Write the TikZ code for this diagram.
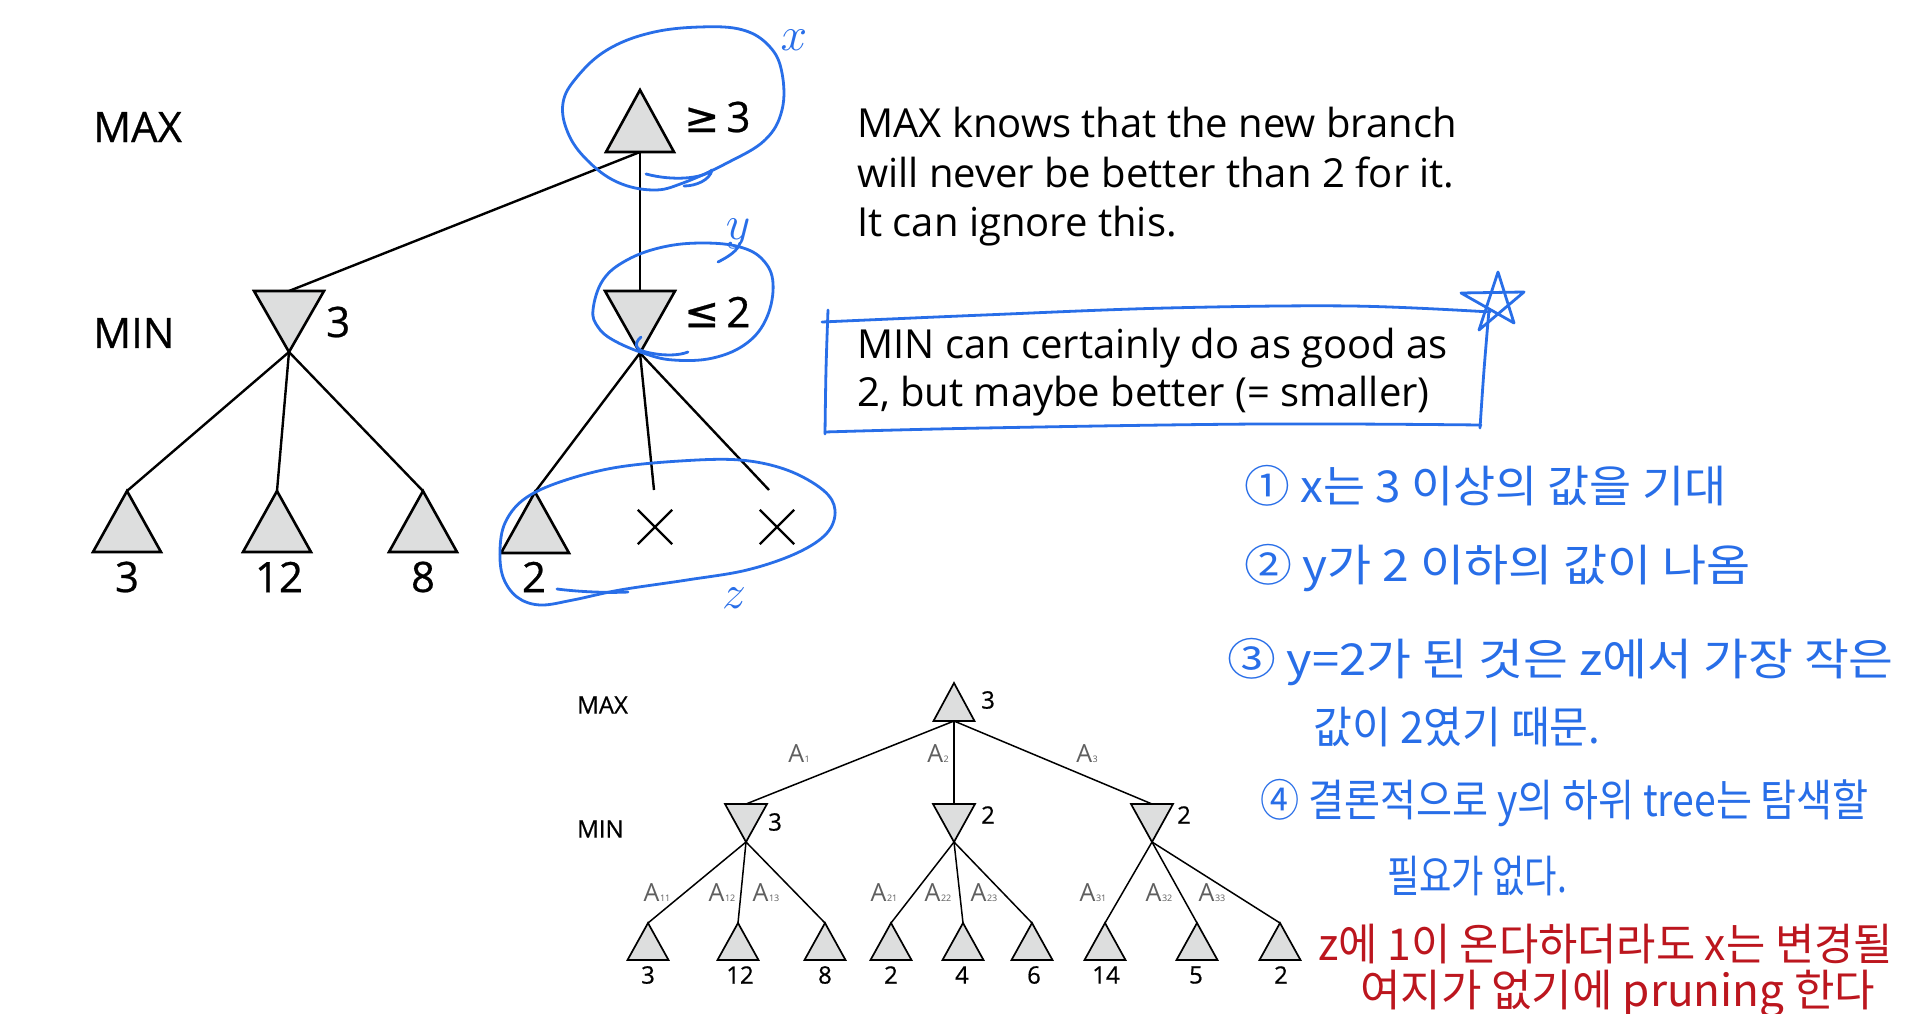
\documentclass[tikz,border=0pt]{standalone}
\usepackage{fontspec}
\setmainfont{Open Sans}
\newfontfamily\treefont[FakeBold=0.6]{Open Sans}
\newfontfamily\krfont{Noto Sans CJK KR}
\newfontfamily\symfont[FakeBold=0.6]{DejaVu Sans}
\usetikzlibrary{shapes.misc}
\definecolor{pen}{RGB}{40,110,232}
\definecolor{redpen}{RGB}{188,22,30}
\definecolor{trifill}{RGB}{221,222,222}
\definecolor{lab}{RGB}{95,95,95}
\newcommand\TriNode[6]{%
  \coordinate (#1) at (#2,#3);
  \coordinate (#1-a) at (#2,#5);
  \path[#6] ({#2-#4},#3) -- ({#2+#4},#3) -- (#2,#5) -- cycle;}
\newcommand\Asub[1]{A\kern0.5pt{\fontsize{9}{9}\selectfont #1}}
\newcommand\KrLine[2]{\scalebox{#1}[1]{#2}}
\tikzset{
  tribig/.style={draw=black, fill=trifill, line width=2.6pt, line join=miter},
  trismall/.style={draw=black, fill=trifill, line width=1.7pt, line join=miter},
  edgebig/.style={draw=black, line width=2.4pt},
  edgesmall/.style={draw=black, line width=1.5pt},
  ink/.style={draw=pen, line width=2.8pt, line cap=round, line join=round},
  bigtxt/.style={font=\treefont\fontsize{42}{50}\selectfont, inner sep=0pt},
  smalltxt/.style={font=\treefont\fontsize{24}{28}\selectfont, inner sep=0pt},
  edgelab/.style={font=\fontsize{25}{28}\selectfont, text=lab, inner sep=0pt},
  note/.style={font=\fontsize{40}{48}\selectfont, inner sep=0pt, anchor=base west},
  kr/.style={font=\krfont\fontsize{44}{50}\selectfont, text=pen, inner sep=0pt, anchor=west},
  krred/.style={font=\krfont\fontsize{44}{50}\selectfont, text=redpen, inner sep=0pt, anchor=west},
  hand/.style={font=\fontsize{20}{20}\selectfont, text=pen, inner sep=0pt},
  xmark/.style={draw=black, cross out, line width=2.4pt, minimum size=32pt, inner sep=0pt}
}
\begin{document}
\begin{tikzpicture}[x=1pt,y=-1pt]
\useasboundingbox (0,0) rectangle (1928,1014);
\fill[white] (0,0) rectangle (1928,1014);

% ================= upper tree =================
\node[bigtxt, anchor=west] (lmax) at (93,127) {MAX};
\node[bigtxt, anchor=west] (lmin) at (93,333) {MIN};

\coordinate (root) at (640,152);
\coordinate (m1) at (289,291);  \coordinate (m1-a) at (289,352);
\coordinate (m2) at (640,291);  \coordinate (m2-a) at (640,353);
\coordinate (l1-a) at (127,491); \coordinate (l2-a) at (277,491);
\coordinate (l3-a) at (423,491); \coordinate (l4-a) at (535,492);
\coordinate (e5) at (654,490); \coordinate (e6) at (769,490);

\draw[edgebig] (root) -- (m1);
\draw[edgebig] (root) -- (m2);
\draw[edgebig] (m1-a) -- (l1-a);
\draw[edgebig] (m1-a) -- (l2-a);
\draw[edgebig] (m1-a) -- (l3-a);
\draw[edgebig] (m2-a) -- (l4-a);
\draw[edgebig] (m2-a) -- (e5);
\draw[edgebig] (m2-a) -- (e6);

\TriNode{root}{640}{152}{34}{90}{tribig}
\TriNode{m1}{289}{291}{35}{352}{tribig}
\TriNode{m2}{640}{291}{35}{353}{tribig}
\TriNode{l1}{127}{552}{34}{491}{tribig}
\TriNode{l2}{277}{552}{34}{491}{tribig}
\TriNode{l3}{423}{552}{34}{491}{tribig}
\TriNode{l4}{535}{553}{34}{492}{tribig}

\node[xmark] (x5) at (655,527) {};
\node[xmark] (x6) at (777,527) {};

\node[bigtxt, anchor=west] (vroot) at (684,117) {{\symfont ≥}\,3};
\node[bigtxt, anchor=west] (vm1) at (326,322) {3};
\node[bigtxt, anchor=west] (vm2) at (684,312) {{\symfont ≤}\,2};
\node[bigtxt] (v1) at (127,577) {3};
\node[bigtxt] (v2) at (279,577) {12};
\node[bigtxt] (v3) at (423,577) {8};
\node[bigtxt] (v4) at (534,577) {2};

% ================= blue annotations on the tree =================
\draw[ink] plot[smooth cycle, tension=0.65] coordinates {
 (563,103) (577,77) (607,50) (650,33) (700,27) (743,30) (770,47) (782,73)
 (782,110) (765,140) (727,163) (683,183) (653,190) (617,182) (587,160) (568,133)};
\draw[ink] (646,174) .. controls (672,181) and (702,179) .. (712,170)
           .. controls (710,180) and (696,186) .. (684,186);
\node[hand] (hx) at (794,40) {\scalebox{2.3}{\(x\)}};

\draw[ink] plot[smooth cycle, tension=0.65] coordinates {
 (593,310) (603,280) (627,260) (663,247) (703,243) (740,247) (763,260) (773,283)
 (767,317) (747,343) (713,358) (673,360) (643,353) (613,340) (598,327)};
\draw[ink] (641,337) .. controls (633,344) and (636,350) .. (646,352)
           .. controls (662,356) and (678,356) .. (688,352);
\draw[ink] (718,262) .. controls (730,256) and (738,250) .. (740,243);
\node[hand] (hy) at (738,234) {\scalebox{2.3}{\(y\)}};

\draw[ink] plot[smooth cycle, tension=0.6] coordinates {
 (500,550) (505,523) (523,500) (557,483) (613,468) (680,461) (740,460) (787,470)
 (823,490) (835,510) (827,533) (797,553) (747,570) (687,580) (620,590) (573,600)
 (540,605) (517,597) (503,577)};
\draw[ink] (557,589) .. controls (580,592) and (610,593) .. (628,592);
\node[hand] (hz) at (734,598) {\scalebox{2.3}{\(z\)}};

% ================= explanatory text =================
\node[note] (t1) at (857,138) {MAX knows that the new branch};
\node[note] (t2) at (857,187) {will never be better than 2 for it.};
\node[note] (t3) at (857,236) {It can ignore this.};

\node[note] (b1) at (857,358) {MIN can certainly do as good as};
\node[note] (b2) at (857,406) {2, but maybe better (= smaller)};

% hand drawn box and star
\draw[ink] plot[smooth, tension=0.6] coordinates {(828,310) (826,370) (825,434)};
\draw[ink] plot[smooth, tension=0.6] coordinates {(822,322) (984,315) (1167,308) (1351,306) (1490,312)};
\draw[ink] plot[smooth, tension=0.6] coordinates {(1489,310) (1484,370) (1480,428)};
\draw[ink] plot[smooth, tension=0.6] coordinates {(825,432) (984,428) (1259,424) (1481,425)};
\draw[ink] (1498,272) -- (1479,330) -- (1524,292) -- (1461,293) -- (1514,323) -- cycle;

% ================= Korean notes =================
\node[kr] (k1) at (1244,486) {\KrLine{1.04}{① x는  3 이상의  값을  기대}};
\node[kr] (k2) at (1244,568) {\KrLine{1.09}{② y가  2 이하의 값이  나옴}};
\node[kr] (k3) at (1227,662) {\KrLine{1.11}{③ y=2가 된  것은  z에서  가장 작은}};
\node[kr] (k4) at (1313,727) {\KrLine{0.96}{값이  2였기  때문.}};
\node[kr] (k5) at (1260,803) {\KrLine{0.89}{④ 결론적으로 y의  하위  tree는  탐색할}};
\node[kr] (k6) at (1387,876) {\KrLine{0.8}{필요가  없다.}};
\node[krred] (r1) at (1318,944) {\KrLine{0.97}{z에 1이  온다하더라도  x는 변경될}};
\node[krred] (r2) at (1360,994) {\KrLine{1.0}{여지가  없기에  pruning 한다}};

% ================= lower tree =================
\node[smalltxt, anchor=west] (smax) at (577,705) {MAX};
\node[smalltxt, anchor=west] (smin) at (577,829) {MIN};

\coordinate (R) at (954,721);
\coordinate (N1) at (746,804) ; \coordinate (N1-a) at (746,842);
\coordinate (N2) at (954,804) ; \coordinate (N2-a) at (954,842);
\coordinate (N3) at (1152,804); \coordinate (N3-a) at (1152,842);
\foreach \i/\cx in {1/648,2/738,3/825,4/891,5/963,6/1032,7/1105,8/1197,9/1280}
  {\coordinate (L\i-a) at (\cx,923);}

\draw[edgesmall] (R) -- (N1);
\draw[edgesmall] (R) -- (N2);
\draw[edgesmall] (R) -- (N3);
\draw[edgesmall] (N1-a) -- (L1-a);
\draw[edgesmall] (N1-a) -- (L2-a);
\draw[edgesmall] (N1-a) -- (L3-a);
\draw[edgesmall] (N2-a) -- (L4-a);
\draw[edgesmall] (N2-a) -- (L5-a);
\draw[edgesmall] (N2-a) -- (L6-a);
\draw[edgesmall] (N3-a) -- (L7-a);
\draw[edgesmall] (N3-a) -- (L8-a);
\draw[edgesmall] (N3-a) -- (L9-a);

\TriNode{R}{954}{721}{20.5}{683}{trismall}
\TriNode{N1}{746}{804}{21}{842}{trismall}
\TriNode{N2}{954}{804}{21}{842}{trismall}
\TriNode{N3}{1152}{804}{21}{842}{trismall}
\foreach \i/\cx in {1/648,2/738,3/825,4/891,5/963,6/1032,7/1105,8/1197,9/1280}
  {\TriNode{L\i}{\cx}{960}{20.5}{923}{trismall}}

\node[smalltxt, anchor=west] (vR) at (981,700) {3};
\node[smalltxt, anchor=west] (vN1) at (768,822) {3};
\node[smalltxt, anchor=west] (vN2) at (981,815) {2};
\node[smalltxt, anchor=west] (vN3) at (1177,815) {2};
\foreach \i/\cx/\v in {1/648/3,2/740/12,3/825/8,4/891/2,5/962/4,6/1034/6,7/1106/14,8/1196/5,9/1281/2}
  {\node[smalltxt] (w\i) at (\cx,975) {\v};}

\node[edgelab] (a1) at (799,754) {\Asub{1}};
\node[edgelab] (a2) at (938,754) {\Asub{2}};
\node[edgelab] (a3) at (1087,754) {\Asub{3}};
\node[edgelab] (a11) at (657,893) {\Asub{11}};
\node[edgelab] (a12) at (722,893) {\Asub{12}};
\node[edgelab] (a13) at (766,893) {\Asub{13}};
\node[edgelab] (a21) at (884,893) {\Asub{21}};
\node[edgelab] (a22) at (938,893) {\Asub{22}};
\node[edgelab] (a23) at (984,893) {\Asub{23}};
\node[edgelab] (a31) at (1093,893) {\Asub{31}};
\node[edgelab] (a32) at (1159,893) {\Asub{32}};
\node[edgelab] (a33) at (1212,893) {\Asub{33}};
\end{tikzpicture}
\end{document}
